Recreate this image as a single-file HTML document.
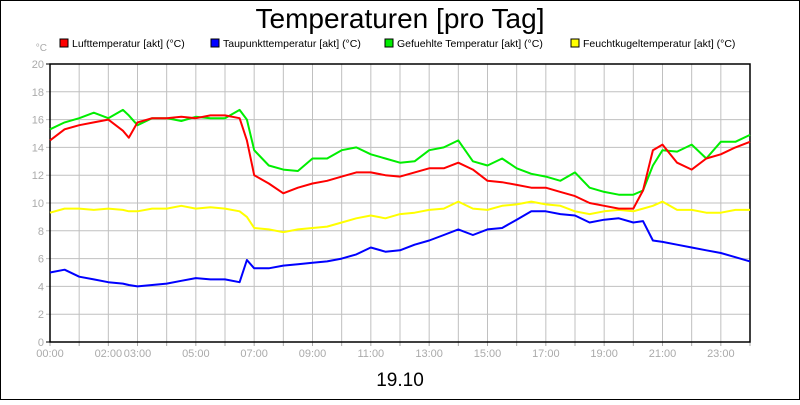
<!DOCTYPE html>
<html><head><meta charset="utf-8"><style>
body{margin:0;background:#fff}
svg text{font-family:"Liberation Sans",sans-serif}
</style></head><body>
<svg id="c" width="800" height="400" xmlns="http://www.w3.org/2000/svg">
<rect x="0.5" y="0.5" width="799" height="399" fill="#fff" stroke="#000"/>
<text x="400" y="28" font-size="28" text-anchor="middle">Temperaturen [pro Tag]</text>
<text x="400" y="386" font-size="19" text-anchor="middle">19.10</text>
<text x="47" y="51" font-size="10" fill="#aaa" text-anchor="end">°C</text>
<g id="grid"></g><g id="series"></g><g id="legend"></g>
</svg>
<script>
const seriesNames=["Lufttemperatur [akt] (°C)","Taupunkttemperatur [akt] (°C)","Gefuehlte Temperatur [akt] (°C)","Feuchtkugeltemperatur [akt] (°C)"];
const seriesColors=["#f00","#00f","#0e0","#ff0"];
const legendX=[60,211,385,571];
const yTicks=[0,2,4,6,8,10,12,14,16,18,20];
const xTickLabels=["00:00","02:00","03:00","05:00","07:00","09:00","11:00","13:00","15:00","17:00","19:00","21:00","23:00"];
const xTickHours=[0,2,3,5,7,9,11,13,15,17,19,21,23];
const hours=[0,0.5,1,1.5,2,2.5,2.7,3,3.5,4,4.5,5,5.5,6,6.5,6.75,7,7.5,8,8.5,9,9.5,10,10.5,11,11.5,12,12.5,13,13.5,14,14.5,15,15.5,16,16.5,17,17.5,18,18.5,19,19.5,20,20.33,20.67,21,21.5,22,22.5,23,23.5,24];
const luft=[14.5,15.3,15.6,15.8,16,15.2,14.7,15.8,16.1,16.1,16.2,16.1,16.3,16.3,16.1,14.5,12,11.4,10.7,11.1,11.4,11.6,11.9,12.2,12.2,12,11.9,12.2,12.5,12.5,12.9,12.4,11.6,11.5,11.3,11.1,11.1,10.8,10.5,10,9.8,9.6,9.6,10.9,13.8,14.2,12.9,12.4,13.2,13.5,14,14.4];
const tau=[5,5.2,4.7,4.5,4.3,4.2,4.1,4,4.1,4.2,4.4,4.6,4.5,4.5,4.3,5.9,5.3,5.3,5.5,5.6,5.7,5.8,6,6.3,6.8,6.5,6.6,7,7.3,7.7,8.1,7.7,8.1,8.2,8.8,9.4,9.4,9.2,9.1,8.6,8.8,8.9,8.6,8.7,7.3,7.2,7,6.8,6.6,6.4,6.1,5.8];
const gef=[15.3,15.8,16.1,16.5,16.1,16.7,16.3,15.6,16.1,16.1,15.9,16.2,16.1,16.1,16.7,16,13.8,12.7,12.4,12.3,13.2,13.2,13.8,14,13.5,13.2,12.9,13,13.8,14,14.5,13,12.7,13.2,12.5,12.1,11.9,11.6,12.2,11.1,10.8,10.6,10.6,10.9,12.7,13.8,13.7,14.2,13.2,14.4,14.4,14.9];
const feucht=[9.3,9.6,9.6,9.5,9.6,9.5,9.4,9.4,9.6,9.6,9.8,9.6,9.7,9.6,9.4,9,8.2,8.1,7.9,8.1,8.2,8.3,8.6,8.9,9.1,8.9,9.2,9.3,9.5,9.6,10.1,9.6,9.5,9.8,9.9,10.1,9.9,9.8,9.4,9.2,9.4,9.5,9.4,9.6,9.8,10.1,9.5,9.5,9.3,9.3,9.5,9.5];
const allSeries=[luft,tau,gef,feucht];
const drawOrder=[3,1,2,0];
const X0=50,X1=750,Y0=342,Y1=64;
const xs=h=>X0+h*(X1-X0)/24;
const ys=v=>Y0-v*(Y0-Y1)/20;
const NS="http://www.w3.org/2000/svg";
function mk(tag,attrs,parent){const e=document.createElementNS(NS,tag);for(const k in attrs)e.setAttribute(k,attrs[k]);parent.appendChild(e);return e;}
const grid=document.getElementById('grid');
for(let h=1;h<24;h++){const l=mk('line',{x1:xs(h),x2:xs(h),y1:Y1,y2:Y0,stroke:'#c0c0c0'},grid);

}
yTicks.forEach(v=>{const l=mk('line',{x1:X0-4,x2:X1,y1:ys(v),y2:ys(v),stroke:v==0||v==20?'#000':'#c0c0c0'},grid);


const t=mk('text',{x:X0-6,y:ys(v)+4,'font-size':11,fill:'#aaa','text-anchor':'end'},grid);t.textContent=v;

});
for(let h=0;h<=24;h++){const l=mk('line',{x1:xs(h),x2:xs(h),y1:Y0,y2:Y0+4,stroke:'#aaa'},grid);

}
xTickLabels.forEach((s,i)=>{const t=mk('text',{x:xs(xTickHours[i]),y:357,'font-size':11,fill:'#aaa','text-anchor':'middle'},grid);t.textContent=s;

});
const fr=mk('rect',{x:X0,y:Y1,width:X1-X0,height:Y0-Y1,fill:'none',stroke:'#000','stroke-width':1.5},grid);


const sg=document.getElementById('series');
drawOrder.forEach(i=>{const d=allSeries[i].map((v,j)=>(j?'L':'M')+xs(hours[j]).toFixed(1)+','+ys(v).toFixed(1)).join('');
const p=mk('path',{d:d,fill:'none',stroke:seriesColors[i],'stroke-width':2,'stroke-linejoin':'round'},sg);

});
const lg=document.getElementById('legend');
seriesNames.forEach((n,i)=>{const g=mk('g',{},lg);


mk('rect',{x:legendX[i],y:39,width:8,height:8,fill:seriesColors[i],stroke:'#000'},g);
const t=mk('text',{x:legendX[i]+12,y:47,'font-size':10.5},g);t.textContent=n;});
</script>
</body></html>
